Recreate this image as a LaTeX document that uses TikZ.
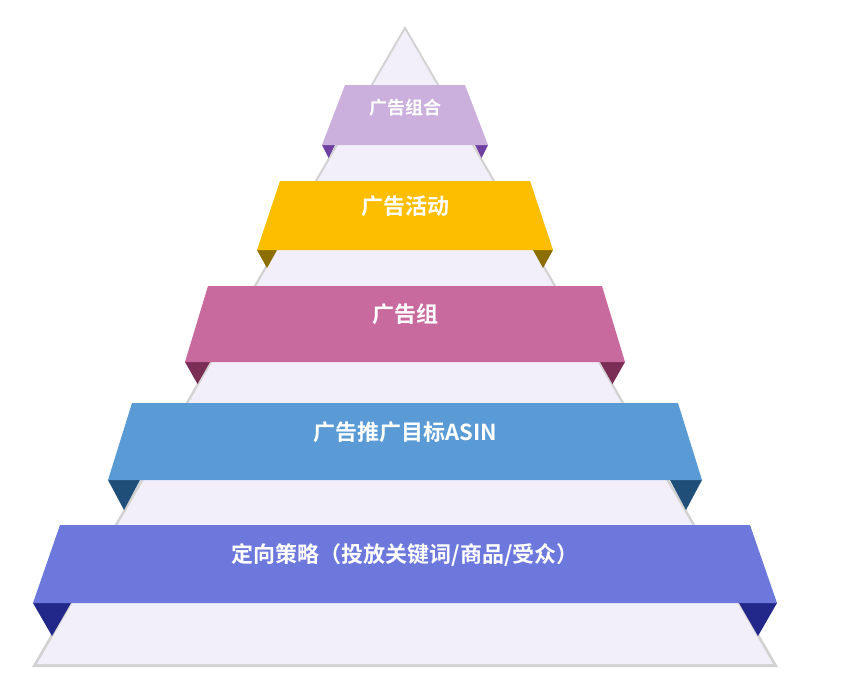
\documentclass[tikz,border=0pt]{standalone}
\usepackage{fontspec}
\newfontfamily\cjk{Noto Sans CJK SC Bold}
\begin{document}
\begin{tikzpicture}[x=1pt,y=-1pt,
  lbl/.style={text=white,font=\cjk}]
\useasboundingbox (0,0) rectangle (860,689);
\fill[gray!35] (405,26) -- (32,667) -- (778,667) -- cycle;
\fill[fill={rgb,255:red,243;green,239;blue,250}] (405,30) -- (37,664) -- (773,664) -- cycle;
\foreach \yt/\yb/\ht/\hb/\d/\fw/\c/\dk/\t/\s/\n in {
  85/145/60/83/13/13/CBB0DE/7040A0/{广告组合}/18/a,
  181/250/125/148/18/20/FDBE00/8C6D00/{广告活动}/22/b,
  286/362/197/220/22/25/C86A9E/7A2D55/{广告组}/22/c,
  403/480/273/297/30/32/5B9BD5/1F4E79/{广告推广目标ASIN}/22/d,
  525/603/345/372/33/38/6C78DC/22288A/{定向策略（投放关键词{/}商品{/}受众）}/22/e}{
  \definecolor{bc}{HTML}{\c}\definecolor{bd}{HTML}{\dk}
  \fill[bd] (405-\hb,\yb) -- (405-\hb+\fw,\yb) -- (405-\hb+\fw/2,\yb+\d) -- cycle;
  \fill[bd] (405+\hb,\yb) -- (405+\hb-\fw,\yb) -- (405+\hb-\fw/2,\yb+\d) -- cycle;
  \fill[bc] (405-\ht,\yt) -- (405+\ht,\yt) -- (405+\hb,\yb) -- (405-\hb,\yb) -- cycle;
  \node[lbl,font=\cjk\fontsize{\s}{\s}\selectfont] (\n) at (405,{(\yt+\yb)/2}) {\t};
}
\end{tikzpicture}
\end{document}
